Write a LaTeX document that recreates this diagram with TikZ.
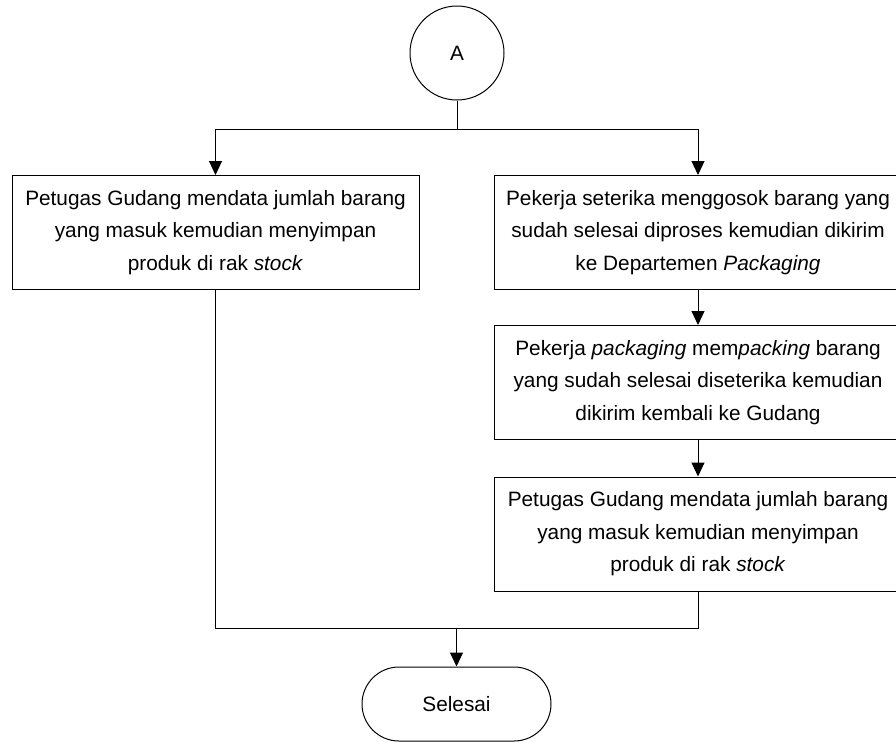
\documentclass[tikz,border=0pt]{standalone}
\usepackage{fontspec}
\setmainfont{Liberation Sans}
\usetikzlibrary{arrows.meta,shapes.misc}
\begin{document}
\begin{tikzpicture}[x=1pt,y=-1pt, line width=1pt,
 txt/.style={font=\fontsize{20.8}{32.5}\selectfont},
 box/.style={draw, rectangle, minimum width=407pt, minimum height=114pt, align=center, inner sep=0pt, txt},
 arr/.style={-{Triangle[width=13pt,length=14pt]}}]
\useasboundingbox (0,0) rectangle (896,742);
\clip (0,0) rectangle (896,742);
\node[circle, draw, minimum size=94pt, inner sep=0pt, txt] (A) at (457,53) {A};
\node[box] (L) at (215.5,232.5) {Petugas Gudang mendata jumlah barang\\yang masuk kemudian menyimpan\\produk di rak \textit{stock}};
\node[box, minimum width=408pt] (R1) at (698,232.5) {Pekerja seterika menggosok barang yang\\sudah selesai diproses kemudian dikirim\\ke Departemen \textit{Packaging}};
\node[box, minimum width=408pt] (R2) at (698,382.5) {Pekerja \textit{packaging} mem\textit{packing} barang\\yang sudah selesai diseterika kemudian\\dikirim kembali ke Gudang};
\node[box, minimum width=408pt] (R3) at (698,534) {Petugas Gudang mendata jumlah barang\\yang masuk kemudian menyimpan\\produk di rak \textit{stock}};
\node[rounded rectangle, draw, minimum width=189pt, minimum height=74pt, inner sep=0pt, txt] (S) at (456.5,704) {Selesai};
\coordinate (j1) at (A.south |- 0,129);
\coordinate (j2) at (S.north |- 0,628);
\draw (A.south) -- (j1);
\draw[arr] (j1) -| (L.north);
\draw[arr] (j1) -| (R1.north);
\draw[arr] (R1.south) -- (R2.north);
\draw[arr] (R2.south) -- (R3.north);
\draw (L.south) |- (j2);
\draw (R3.south) |- (j2);
\draw[arr] (j2) -- (S.north);
\end{tikzpicture}
\end{document}
